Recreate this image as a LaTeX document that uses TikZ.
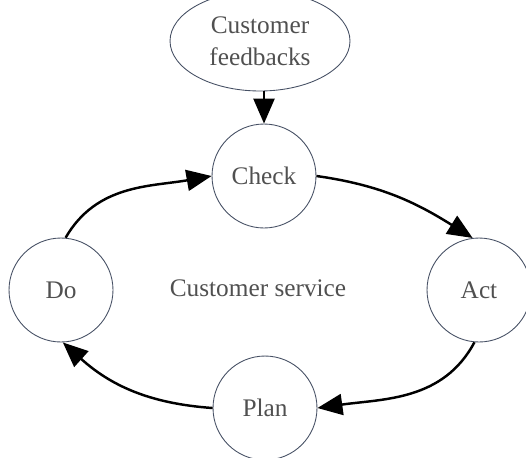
\documentclass[tikz,border=0pt]{standalone}
\usepackage{fontspec}
\setmainfont{Liberation Serif}
\usetikzlibrary{arrows.meta,shapes.geometric}
\definecolor{rim}{RGB}{70,80,100}
\definecolor{ink}{RGB}{80,80,80}

\begin{document}
\begin{tikzpicture}[x=0.02cm, y=-0.02cm,
  stage/.style={circle, draw=rim, line width=0.5pt, minimum size=2.08cm, inner sep=0pt,
    text=ink, font=\fontsize{14.4}{16}\selectfont},
  flow/.style={line width=1.4pt, -{Triangle[length=0.5cm, width=0.42cm]}}]
\useasboundingbox (0,0) rectangle (526,457);
%
\node[ellipse, draw=rim, line width=0.5pt, minimum width=3.6cm, minimum height=2.0cm,
  inner sep=0pt, align=center, text=ink, font=\fontsize{14.4}{18}\selectfont]
  (feedback) at (260,41) {Customer\\feedbacks};
\node[stage] (check) at (264,176) {Check};
\node[stage] (do) at (61,290) {Do};
\node[stage] (act) at (479,290) {Act};
\node[stage] (plan) at (265,408) {Plan};
\node[text=ink, font=\fontsize{14.4}{16}\selectfont] (service) at (258,288) {Customer service};
%
\draw[flow] (feedback.south -| check.north) -- (check.north);
\draw[flow] (do.85) to[out=60, in=190] (check.180);
\draw[flow] (check.0) to[out=-8, in=148] (act.97);
\draw[flow] (act.-95) to[out=-118, in=8] (plan.0);
\draw[flow] (plan.180) to[out=176, in=-42] (do.-88);
\end{tikzpicture}
\end{document}
